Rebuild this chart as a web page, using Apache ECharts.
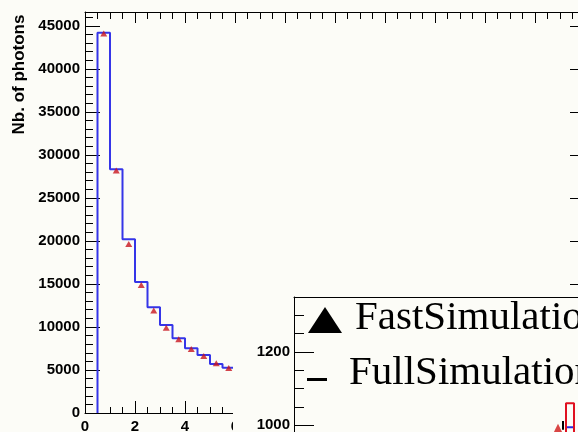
<!DOCTYPE html>
<html><head><meta charset="utf-8">
<script src="https://cdn.jsdelivr.net/npm/echarts@6/dist/echarts.min.js"></script>
<style>html,body{margin:0;padding:0;background:#fcfcf7}#c{width:578px;height:432px}</style>
</head><body><div id="c"></div>
<script>
// ---- data ----
const binEdges = [0.5, 1.0, 1.5, 2.0, 2.5, 3.0, 3.5, 4.0, 4.5, 5.0, 5.5, 6.0];
const fullSimCounts = [44200, 28340, 20200, 15230, 12290, 10230, 8690, 7520, 6740, 5700, 5270];
const fastSimCounts = [44100, 28170, 19650, 14880, 11900, 9920, 8570, 7450, 6630, 5780, 5230];
const xTicks = [0, 2, 4, 6, 8, 10, 12, 14, 16, 18, 20];
const yTicks = [0, 5000, 10000, 15000, 20000, 25000, 30000, 35000, 40000, 45000];
// inset panel (only its upper-left corner is visible)
const insetYTicks = [1000, 1200];
const insetEdges = [27.2, 28.0];
const insetFull = [995];
const insetFastHist = [1060];
const insetFastX = [26.4];
const insetFastY = [985];
const insetErrX = [26.9];
const insetErrLo = [988];
const insetErrHi = [1012];
const legendNames = ['FastSimulation', 'FullSimulation'];

function histPoints(edges, vals, base) {
  const pts = [[edges[0], base]];
  for (let i = 0; i < vals.length; i++) {
    pts.push([edges[i], vals[i]]);
    pts.push([edges[i + 1], vals[i]]);
  }
  return pts;
}
const binCenters = fastSimCounts.map((v, i) => [(binEdges[i] + binEdges[i + 1]) / 2, v]);

const lblFont = {fontFamily: 'Liberation Sans', fontWeight: 'bold', fontSize: 15, color: '#000'};
const black = {color: '#000', width: 1};
const plain = v => String(v);

const chart = echarts.init(document.getElementById('c'), null, {renderer: 'canvas'});
chart.setOption({
  backgroundColor: '#fcfcf7',
  animation: false,
  grid: [
    {left: 85, top: 12, width: 500, height: 401, outerBoundsMode: 'none', containLabel: false},
    {left: 294, top: 297, width: 320, height: 201.7, outerBoundsMode: 'none', containLabel: false}
  ],
  xAxis: [
    {type: 'value', gridIndex: 0, min: 0, max: 20, interval: 2, position: 'bottom',
     axisLine: {show: true, onZero: false, lineStyle: black},
     axisTick: {show: true, inside: true, length: 12, lineStyle: black},
     minorTick: {show: true, splitNumber: 4, length: 6, lineStyle: black},
     splitLine: {show: false},
     axisLabel: Object.assign({margin: 6, showMaxLabel: false, formatter: plain}, lblFont)},
    {type: 'value', gridIndex: 0, min: 0, max: 20, interval: 2, position: 'top',
     axisLine: {show: true, onZero: false, lineStyle: black},
     axisTick: {show: true, inside: true, length: 11, lineStyle: black},
     minorTick: {show: true, splitNumber: 4, length: 7, lineStyle: black},
     splitLine: {show: false}, axisLabel: {show: false}},
    {type: 'value', gridIndex: 1, min: 0, max: 32, position: 'top', z: 20,
     axisLine: {show: true, onZero: false, lineStyle: black},
     axisTick: {show: false}, splitLine: {show: false}, axisLabel: {show: false}}
  ],
  yAxis: [
    {type: 'value', gridIndex: 0, min: 0, max: 46600, interval: 5000, position: 'left',
     name: 'Nb. of photons', nameLocation: 'middle', nameGap: 56,
     nameTextStyle: {fontFamily: 'Liberation Sans', fontWeight: 'bold', fontSize: 17, color: '#000', padding: [0, 0, 0, 276]},
     axisLine: {show: true, onZero: false, lineStyle: black},
     axisTick: {show: true, inside: true, length: 15, lineStyle: black},
     minorTick: {show: true, splitNumber: 5, length: 8, lineStyle: black},
     splitLine: {show: false},
     axisLabel: Object.assign({margin: 5, showMaxLabel: false, formatter: plain}, lblFont)},
    {type: 'value', gridIndex: 0, min: 0, max: 46600, interval: 5000, position: 'right',
     axisLine: {show: true, onZero: false, lineStyle: black},
     axisTick: {show: true, inside: true, length: 15, lineStyle: black},
     splitLine: {show: false}, axisLabel: {show: false}},
    {type: 'value', gridIndex: 1, min: 800, max: 1350, interval: 200, position: 'left', z: 20,
     axisLine: {show: true, onZero: false, lineStyle: black},
     axisTick: {show: true, inside: true, length: 20, lineStyle: black},
     minorTick: {show: true, splitNumber: 4, length: 10, lineStyle: black},
     splitLine: {show: false},
     axisLabel: Object.assign({margin: 4, showMaxLabel: false,
       formatter: v => insetYTicks.indexOf(v) >= 0 ? String(v) : ''}, lblFont)}
  ],
  series: [
    {name: legendNames[1], type: 'line', xAxisIndex: 0, yAxisIndex: 0, z: 2,
     data: histPoints(binEdges, fullSimCounts, 0), showSymbol: false, symbol: 'none',
     lineStyle: {color: '#3535e8', width: 2}},
    {name: legendNames[0], type: 'scatter', xAxisIndex: 0, yAxisIndex: 0, z: 3,
     data: binCenters, symbol: 'triangle', symbolSize: [7, 6],
     itemStyle: {color: '#c8141e'}},
    {name: legendNames[1] + ' (inset)', type: 'line', xAxisIndex: 2, yAxisIndex: 2, z: 20,
     data: histPoints(insetEdges, insetFull, 800).concat([[insetEdges[insetEdges.length - 1], 800]]),
     showSymbol: false, symbol: 'none', lineStyle: {color: '#2a2ae0', width: 2}},
    {name: legendNames[0] + ' (inset hist)', type: 'line', xAxisIndex: 2, yAxisIndex: 2, z: 21,
     data: histPoints(insetEdges, insetFastHist, 800).concat([[insetEdges[insetEdges.length - 1], 800]]),
     showSymbol: false, symbol: 'none', lineStyle: {color: '#e01020', width: 2}},
    {name: legendNames[0] + ' (inset)', type: 'scatter', xAxisIndex: 2, yAxisIndex: 2, z: 21,
     data: insetFastX.map((x, i) => [x, insetFastY[i]]), symbol: 'triangle', symbolSize: [14, 14],
     itemStyle: {color: '#d01818'}},
    {name: 'error bars (inset)', type: 'custom', xAxisIndex: 2, yAxisIndex: 2, z: 22,
     data: insetErrX.map((x, i) => [x, insetErrLo[i], insetErrHi[i]]),
     renderItem: function (params, api) {
       const a = api.coord([api.value(0), api.value(1)]);
       const b = api.coord([api.value(0), api.value(2)]);
       return {type: 'line', shape: {x1: a[0], y1: a[1], x2: b[0], y2: b[1]}, style: {stroke: '#000', lineWidth: 2}};
     }}
  ],
  graphic: {elements: [
    {type: 'rect', z: 10, silent: true, shape: {x: 233, y: 290, width: 360, height: 160},
     style: {fill: '#fcfcf7'}},
    {type: 'polygon', z: 30, shape: {points: [[308, 333], [325, 307], [342, 333]]}, style: {fill: '#000'}},
    {type: 'text', z: 30, left: 355, top: 298,
     style: {text: legendNames[0], fontFamily: 'Liberation Serif', fontSize: 41, fill: '#000'}},
    {type: 'rect', z: 30, shape: {x: 307, y: 378, width: 20, height: 3}, style: {fill: '#000'}},
    {type: 'text', z: 30, left: 349, top: 353,
     style: {text: legendNames[1], fontFamily: 'Liberation Serif', fontSize: 41, fill: '#000'}}
  ]}
});
</script></body></html>
